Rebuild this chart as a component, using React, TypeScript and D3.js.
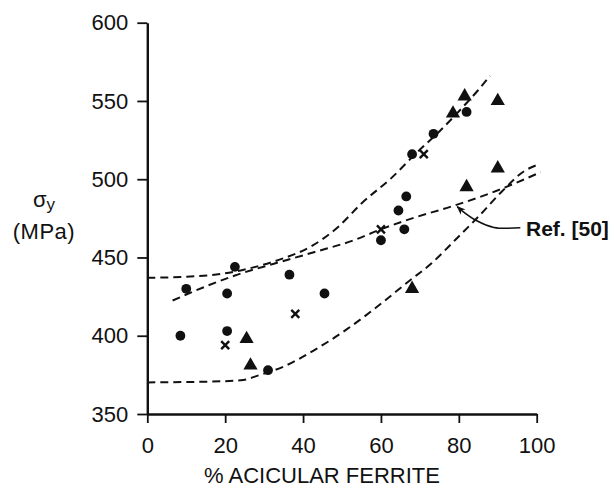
import { useEffect, useRef } from 'react';
import * as d3 from 'd3';

// measured points, % acicular ferrite vs yield stress (MPa)
const circlePts = [
  [8.5, 400], [10, 430], [20.5, 427], [20.5, 403], [22.5, 444], [31, 378],
  [36.5, 439], [45.5, 427], [60, 461], [64.5, 480], [66.5, 489], [66, 468],
  [68, 516], [73.5, 529], [82, 543],
];
const crossPts = [[20, 394], [38, 414], [60, 468], [71, 516]];
const trianglePts = [
  [25.5, 398], [26.5, 381], [68, 430], [78.5, 542], [81.5, 553],
  [90, 550], [82, 495], [90, 507],
];

// dashed band limits and the Ref. [50] line
const upperBand = [
  [0, 437], [10, 437.7], [19, 439.5], [27, 443.5], [35, 449.5], [42, 457],
  [49, 469.5], [55, 484.5], [63, 501.5], [69, 516.5], [75, 530.5], [81, 546],
  [85, 557], [88, 566],
];
const lowerBand = [
  [0, 370.2], [12, 370.5], [24, 371.5], [29, 375], [35, 380.3], [43, 391],
  [51, 403.7], [59, 418.5], [67, 434.5], [73, 446.3], [79, 461], [85, 476],
  [91, 492], [97, 505.5], [100, 509],
];
const refLine = [
  [6.5, 422.5], [14.5, 431], [22.5, 438.5], [32.5, 446], [43, 453.5],
  [53, 461], [60, 468], [68, 475], [78, 482.5], [88, 491], [95, 498], [101, 504.5],
];
const arrowPts = [[95.8, 469], [89, 469.2], [84.5, 473.6], [81, 479.5], [79.6, 482.5]];

const xTicks = [0, 20, 40, 60, 80, 100];
const yTicks = [350, 400, 450, 500, 550, 600];

const FONT = '"Liberation Sans", Arial, Helvetica, sans-serif';

const App = () => {
  const svgRef = useRef(null);
  const width = 613;
  const height = 489;

  useEffect(() => {
    const svg = d3.select(svgRef.current);
    svg.selectAll('*').remove();

    const x = d3.scaleLinear().domain([0, 100]).range([147.3, 536.7]);
    const y = d3.scaleLinear().domain([350, 600]).range([414, 22.7]);

    svg.append('defs').append('marker')
      .attr('id', 'arrowhead')
      .attr('viewBox', '0 0 10 10')
      .attr('refX', 9)
      .attr('refY', 5)
      .attr('markerWidth', 9)
      .attr('markerHeight', 9)
      .attr('markerUnits', 'userSpaceOnUse')
      .attr('orient', 'auto')
      .append('path')
      .attr('d', 'M0,1 L10,5 L0,9 L3,5 z')
      .attr('fill', '#111');

    // axes
    const yAxis = svg.append('g')
      .attr('transform', `translate(${x(0)},0)`)
      .call(d3.axisLeft(y).tickValues(yTicks).tickSize(10).tickSizeOuter(0).tickPadding(9));
    const xAxis = svg.append('g')
      .attr('transform', `translate(0,${y(350)})`)
      .call(d3.axisBottom(x).tickValues(xTicks).tickSize(9).tickSizeOuter(0).tickPadding(14));

    [yAxis, xAxis].forEach(ax => {
      ax.select('.domain').attr('stroke', '#111').attr('stroke-width', 2.4);
      ax.selectAll('.tick line').attr('stroke', '#111').attr('stroke-width', 1.8);
      ax.selectAll('.tick text')
        .attr('fill', '#111')
        .style('font-family', FONT)
        .style('font-size', '22px');
    });

    // dashed curves
    const line = d3.line()
      .x(d => x(d[0]))
      .y(d => y(d[1]))
      .curve(d3.curveMonotoneX);

    svg.selectAll('.band')
      .data([upperBand, lowerBand, refLine])
      .join('path')
      .attr('class', 'band')
      .attr('d', line)
      .attr('fill', 'none')
      .attr('stroke', '#111')
      .attr('stroke-width', 2)
      .attr('stroke-dasharray', '8 5');

    // Ref. [50] pointer
    svg.append('path')
      .attr('d', d3.line().x(d => x(d[0])).y(d => y(d[1])).curve(d3.curveCatmullRom)(arrowPts))
      .attr('fill', 'none')
      .attr('stroke', '#111')
      .attr('stroke-width', 1.6)
      .attr('marker-end', 'url(#arrowhead)');

    svg.append('text')
      .attr('x', 526)
      .attr('y', 235.5)
      .attr('fill', '#111')
      .style('font-family', FONT)
      .style('font-size', '21px')
      .style('font-weight', 'bold')
      .text('Ref. [50]');

    // markers
    svg.selectAll('.circ')
      .data(circlePts)
      .join('circle')
      .attr('class', 'circ')
      .attr('cx', d => x(d[0]))
      .attr('cy', d => y(d[1]))
      .attr('r', 4.9)
      .attr('fill', '#111');

    const tri = d3.symbol(d3.symbolTriangle).size(88);
    svg.selectAll('.tri')
      .data(trianglePts)
      .join('path')
      .attr('class', 'tri')
      .attr('transform', d => `translate(${x(d[0])},${y(d[1])})`)
      .attr('d', tri)
      .attr('fill', '#111');

    const crossG = svg.selectAll('.cross')
      .data(crossPts)
      .join('g')
      .attr('class', 'cross')
      .attr('transform', d => `translate(${x(d[0])},${y(d[1])})`);
    crossG.append('path')
      .attr('d', 'M-4,-4L4,4M-4,4L4,-4')
      .attr('stroke', '#111')
      .attr('stroke-width', 2.4);

    // axis titles
    svg.append('text')
      .attr('x', (x(0) + x(100)) / 2 - 20)
      .attr('y', 483)
      .attr('text-anchor', 'middle')
      .attr('fill', '#111')
      .style('font-family', FONT)
      .style('font-size', '22px')
      .text('% ACICULAR FERRITE');

    const sig = svg.append('text')
      .attr('x', 33)
      .attr('y', 207)
      .attr('fill', '#111')
      .style('font-family', FONT)
      .style('font-size', '22px');
    sig.append('tspan').text('σ');
    sig.append('tspan').attr('dy', 3).style('font-size', '17px').text('y');

    svg.append('text')
      .attr('x', 44)
      .attr('y', 239)
      .attr('text-anchor', 'middle')
      .attr('fill', '#111')
      .style('font-family', FONT)
      .style('font-size', '22px')
      .style('letter-spacing', '0.5px')
      .text('(MPa)');
  }, []);

  return (
    <svg
      ref={svgRef}
      width={width}
      height={height}
      style={{ position: 'absolute', left: 0, top: 0, background: '#fff' }}
    />
  );
};

export default App;
